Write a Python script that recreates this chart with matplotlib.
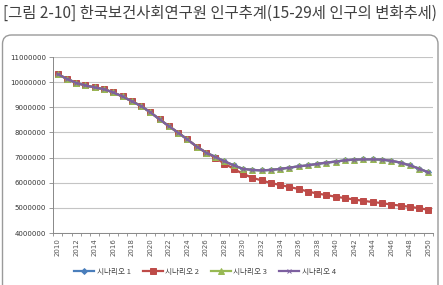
import matplotlib.pyplot as plt
from matplotlib.patches import FancyBboxPatch
from matplotlib.transforms import IdentityTransform
from matplotlib.ticker import MultipleLocator, FuncFormatter

# population projection, 15-29 years old
years = list(range(2010, 2051))

scen1 = [10320000, 10130000, 9970000, 9870000, 9790000, 9720000, 9590000, 9430000,
         9240000, 9050000, 8800000, 8520000, 8250000, 7990000, 7720000, 7440000,
         7200000, 7030000, 6850000, 6690000, 6550000, 6510000, 6490000, 6510000,
         6550000, 6600000, 6650000, 6690000, 6750000, 6800000, 6840000, 6890000,
         6920000, 6930000, 6930000, 6920000, 6870000, 6800000, 6690000, 6560000,
         6410000]
scen2 = [10320000, 10130000, 9970000, 9870000, 9790000, 9720000, 9590000, 9430000,
         9240000, 9050000, 8800000, 8520000, 8250000, 7990000, 7720000, 7440000,
         7200000, 6990000, 6760000, 6550000, 6350000, 6200000, 6090000, 5990000,
         5910000, 5830000, 5750000, 5650000, 5570000, 5510000, 5440000, 5390000,
         5330000, 5280000, 5230000, 5190000, 5130000, 5090000, 5040000, 4990000,
         4920000]
scen3 = [10320000, 10130000, 9970000, 9870000, 9790000, 9720000, 9590000, 9430000,
         9240000, 9050000, 8800000, 8520000, 8250000, 7990000, 7720000, 7440000,
         7200000, 7030000, 6850000, 6690000, 6550000, 6510000, 6490000, 6510000,
         6550000, 6600000, 6650000, 6690000, 6750000, 6800000, 6840000, 6890000,
         6920000, 6930000, 6930000, 6920000, 6870000, 6800000, 6690000, 6560000,
         6410000]
scen4 = [10320000, 10130000, 9970000, 9870000, 9790000, 9720000, 9590000, 9430000,
         9240000, 9050000, 8800000, 8520000, 8250000, 7990000, 7720000, 7440000,
         7200000, 7030000, 6850000, 6690000, 6550000, 6510000, 6490000, 6510000,
         6550000, 6600000, 6650000, 6690000, 6750000, 6800000, 6840000, 6890000,
         6920000, 6930000, 6930000, 6920000, 6870000, 6800000, 6690000, 6560000,
         6410000]

labels = ["시나리오 1", "시나리오 2", "시나리오 3", "시나리오 4"]
colors = ["#4a7ebb", "#be4b48", "#98b954", "#7d60a0"]
markers = ["D", "s", "^", "x"]
msizes = [3, 4.3, 3.8, 2.8]

plt.rcParams['font.family'] = ['Noto Sans CJK KR', 'DejaVu Sans']

fig = plt.figure(figsize=(4.43, 2.85), dpi=100)

# rounded frame around the chart (pixel coords)
frame = FancyBboxPatch((2.5, -12), 435.5, 285 - 35 + 12,
                       boxstyle="round,pad=0,rounding_size=9",
                       transform=IdentityTransform(), fill=False,
                       edgecolor="#9a9a9a", linewidth=1.0)
fig.add_artist(frame)

fig.text(3 / 443, 1 - 13 / 285, "[그림 2-10] 한국보건사회연구원 인구추계(15-29세 인구의 변화추세)",
         fontsize=11.1, color="#404040", va="center", ha="left")

ax = fig.add_axes([53 / 443, 1 - 233 / 285, 380 / 443, 176 / 285])

for data, lab, c, m, ms in zip([scen1, scen2, scen3, scen4], labels, colors, markers, msizes):
    ax.plot(years, data, color=c, lw=1.6, marker=m, markersize=ms,
            markeredgecolor=c, markeredgewidth=0.7, label=lab)

ax.set_xlim(years[0] - 0.5, years[-1] + 0.5)
ax.set_ylim(4000000, 11000000)
ax.yaxis.set_major_locator(MultipleLocator(1000000))
ax.yaxis.set_major_formatter(FuncFormatter(lambda v, p: "%d" % v))
ax.set_xticks(years[::2])
ax.set_xticks([y - 0.5 for y in years] + [years[-1] + 0.5], minor=True)
ax.tick_params(axis="x", which="major", length=0, pad=4, labelsize=5,
               labelrotation=90, labelcolor="#555555")
ax.tick_params(axis="x", which="minor", length=2.5, color="#888888", width=0.6)
ax.tick_params(axis="y", length=3, pad=2, labelsize=5, color="#888888",
               width=0.6, labelcolor="#333333")
for lbl in ax.get_yticklabels() + ax.get_xticklabels():
    lbl.set_family("DejaVu Sans")

ax.grid(axis="y", color="#c4c4c4", linewidth=0.8)
ax.set_axisbelow(True)
for s in ["top", "right"]:
    ax.spines[s].set_visible(False)
for s in ["left", "bottom"]:
    ax.spines[s].set_color("#888888")
    ax.spines[s].set_linewidth(0.7)

fig.legend(loc="center", bbox_to_anchor=(205 / 443, 1 - 272 / 285), ncol=4,
           frameon=False, fontsize=5.5, handlelength=2.6, columnspacing=1.6,
           handletextpad=0.3, labelcolor="#444444")

fig.savefig("out.png", dpi=100)
